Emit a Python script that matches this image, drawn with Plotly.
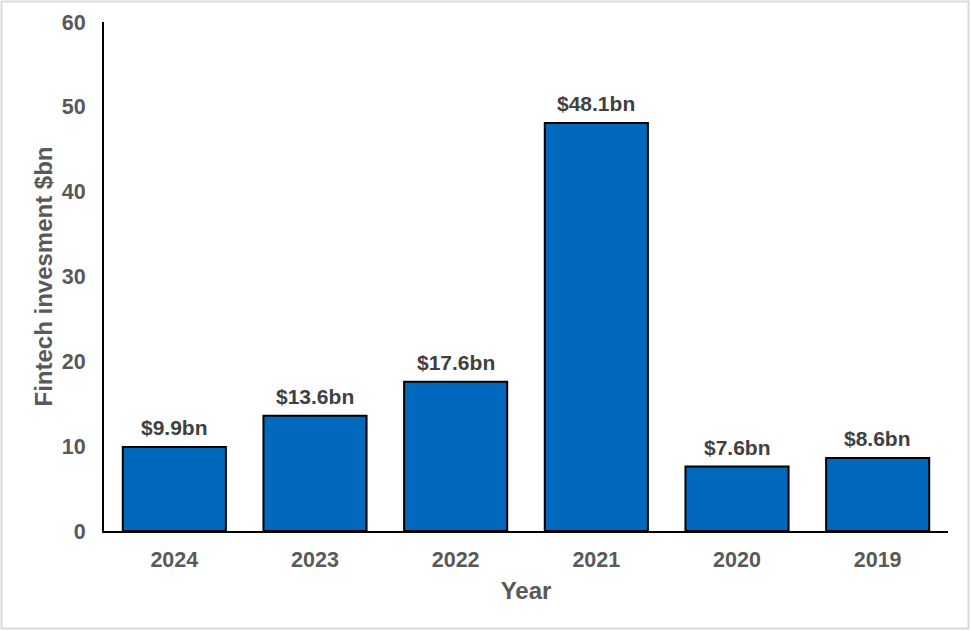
import plotly.graph_objects as go

years = ["2024", "2023", "2022", "2021", "2020", "2019"]
values = [9.9, 13.6, 17.6, 48.1, 7.6, 8.6]
labels = ["$9.9bn", "$13.6bn", "$17.6bn", "$48.1bn", "$7.6bn", "$8.6bn"]
y_ticks = [0, 10, 20, 30, 40, 50, 60]

FONT = "Liberation Sans, Arial, sans-serif"
GRAY = "#595959"
FS_TICK = 21.5
FS_LAB = 21
FS_TITLE = 24

W, H = 972, 631
L, R, T, B = 104, 24, 22, 100
pw, ph = W - L - R, H - T - B

fig = go.Figure()
fig.add_trace(go.Bar(
    x=years, y=values,
    marker=dict(color="#0069BE", line=dict(color="black", width=2)),
    hoverinfo="skip",
))

for i, (v, lab) in enumerate(zip(values, labels)):
    fig.add_annotation(x=i, y=v, text="<b>" + lab + "</b>", showarrow=False,
                       yanchor="bottom", yshift=6,
                       font=dict(family=FONT, size=FS_LAB, color="#404040"))

fig.add_shape(type="rect", xref="paper", yref="paper",
              x0=(1.5 - L) / pw, x1=(W - 3.5 - L) / pw,
              y0=(T + ph - (H - 2.5)) / ph, y1=(T + ph - 1.5) / ph,
              line=dict(color="#d9d9d9", width=2), layer="below")

fig.update_layout(
    width=W, height=H,
    margin=dict(l=L, r=R, t=T, b=B, pad=0),
    paper_bgcolor="white", plot_bgcolor="white",
    bargap=0.267,
    showlegend=False,
    font=dict(family=FONT, size=FS_TICK, color=GRAY),
    xaxis=dict(
        type="category", range=[-0.5, len(years) - 0.5],
        showline=True, linecolor="black", linewidth=2,
        ticks="", showgrid=False,
        tickfont=dict(family=FONT, size=FS_TICK, color=GRAY, weight="bold"),
        ticklabelstandoff=8,
        title=dict(text="<b>Year</b>", standoff=11,
                   font=dict(family=FONT, size=FS_TITLE, color=GRAY)),
    ),
    yaxis=dict(
        range=[0, 60], tickvals=y_ticks, showline=True, linecolor="black", linewidth=2,
        ticks="", showgrid=False, zeroline=False,
        tickfont=dict(family=FONT, size=FS_TICK, color=GRAY, weight="bold"),
        ticklabelstandoff=12,
        title=dict(text="<b>Fintech invesment $bn</b>", standoff=2,
                   font=dict(family=FONT, size=FS_TITLE, color=GRAY)),
    ),
)

fig.write_html("out.html", config={"displayModeBar": False},
               post_script="document.body.style.margin='0';")
